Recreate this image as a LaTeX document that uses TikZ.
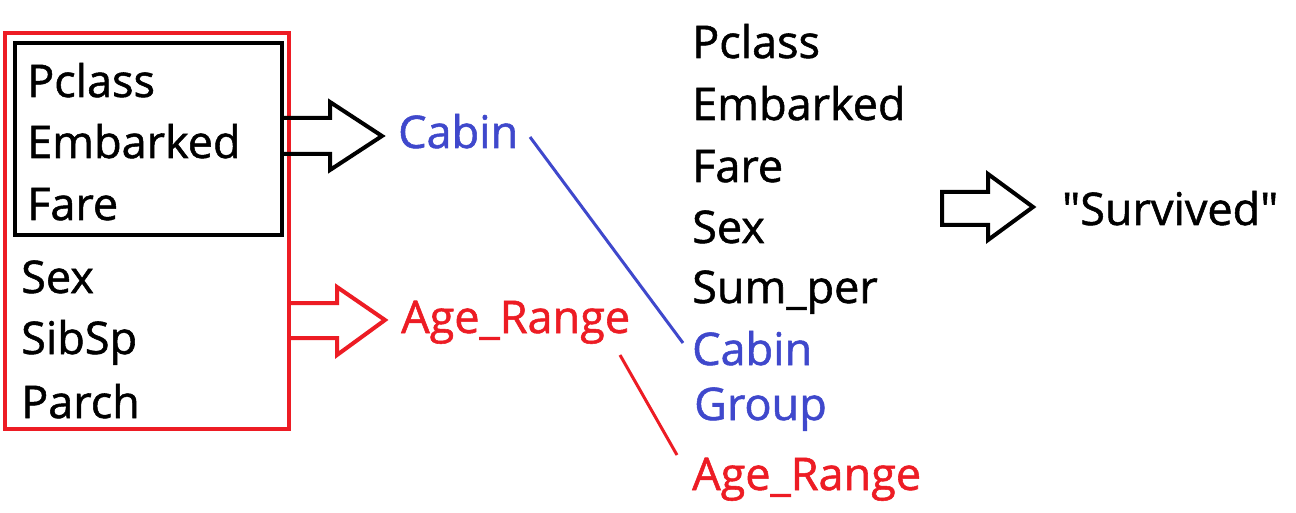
\documentclass[tikz,border=0pt]{standalone}
\usepackage{fontspec}
\setmainfont{Open Sans}[BoldFont={Open Sans},BoldFeatures={FakeBold=1.2}]
\newfontfamily\straightq{Open Sans}[Ligatures=TeXOff,BoldFont={Open Sans},BoldFeatures={FakeBold=1.2}]
\definecolor{pblue}{RGB}{63,72,204}
\definecolor{pred}{RGB}{237,28,36}
\begin{document}
\begin{tikzpicture}[x=1pt,y=-1pt,
  lbl/.style={anchor=base west,inner sep=0pt,font=\fontsize{45}{48}\selectfont\bfseries},
  frame/.style={line width=4pt},
  fatarrow/.style={line width=4pt,line join=miter}]
\useasboundingbox[fill=white] (0,0) rectangle (1296,513);
% boxes
\draw[frame,pred] (5,33) rectangle (289,429);
\draw[frame,black] (15,43) rectangle (282,235);
% left texts
\node[lbl] (lp) at (27,97) {Pclass};
\node[lbl] (le) at (27,158) {Embarked};
\node[lbl] (lf) at (27,220) {Fare};
\node[lbl] (ls) at (21,293) {Sex};
\node[lbl] (lsb) at (21,354) {SibSp};
\node[lbl] (lpa) at (21,418) {Parch};
% middle texts
\node[lbl,text=pblue] (mc) at (398,148) {Cabin};
\node[lbl,text=pred] (ma) at (401,333) {Age\_Range};
% right column
\node[lbl] (rp) at (692,58) {Pclass};
\node[lbl] (re) at (692,120) {Embarked};
\node[lbl] (rf) at (692,182) {Fare};
\node[lbl] (rs) at (692,243) {Sex};
\node[lbl] (rsu) at (692,303) {Sum\_per};
\node[lbl,text=pblue] (rc) at (692,365) {Cabin};
\node[lbl,text=pblue] (rg) at (694,420) {Group};
\node[lbl,text=pred] (ra) at (692,490) {Age\_Range};
\node[lbl] (sv) at (1062,225) {\straightq\bfseries "Survived"};
% arrows
\coordinate (b1) at (282,118);
\coordinate (b2) at (282,154);
\draw[fatarrow,black] (b1) -- (330,118) -- (330,102) -- (382,136) -- (330,170) -- (330,154) -- (b2);
\coordinate (r1) at (289,303);
\coordinate (r2) at (289,338);
\draw[fatarrow,pred] (r1) -- (337,303) -- (337,287) -- (385,320) -- (337,355) -- (337,338) -- (r2);
\draw[fatarrow,black] (942,192) -- (988,192) -- (988,174) -- (1033,207) -- (988,240) -- (988,225) -- (942,225) -- cycle;
% links
\coordinate (c1) at (530,137);
\coordinate (c2) at (683,343);
\draw[pblue,line width=3pt] (c1) -- (c2);
\coordinate (a1) at (620,355);
\coordinate (a2) at (677,455);
\draw[pred,line width=3pt] (a1) -- (a2);
\end{tikzpicture}
\end{document}
